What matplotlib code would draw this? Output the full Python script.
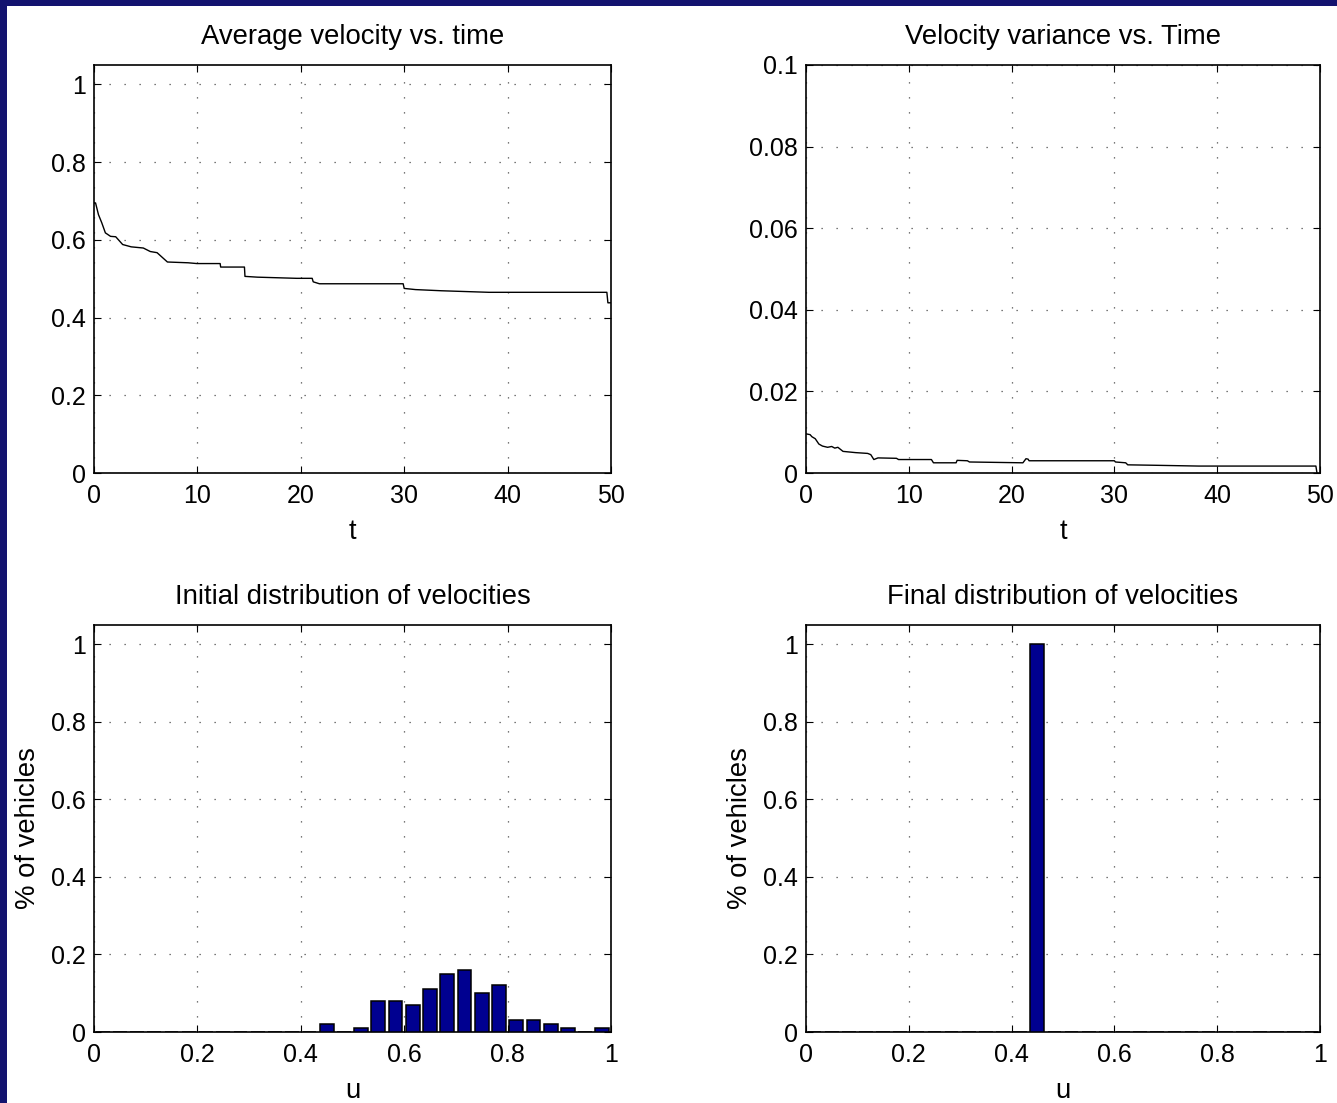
import matplotlib
matplotlib.use("Agg")
import matplotlib.pyplot as plt
import numpy as np
from matplotlib.patches import Rectangle

plt.rcParams['font.family'] = ['Liberation Sans', 'DejaVu Sans']

# ---------------- data ----------------
t_avg = [0.0, 0.15, 0.43, 0.75, 1.1, 1.6, 2.1, 2.77, 3.6, 4.77, 5.44, 6.1, 6.6, 7.1,
         9.1, 9.95, 12.2, 12.25, 14.55, 14.6, 15.8, 19.6, 21.1, 21.2, 21.8, 29.9, 30.0,
         31.1, 33.6, 38.2, 49.6, 49.7, 50.0]
v_avg = [0.695, 0.695, 0.665, 0.644, 0.618, 0.609, 0.608, 0.588, 0.582, 0.579, 0.570,
         0.567, 0.555, 0.543, 0.541, 0.539, 0.539, 0.530, 0.530, 0.506, 0.504, 0.501,
         0.501, 0.492, 0.487, 0.487, 0.475, 0.472, 0.469, 0.465, 0.465, 0.438, 0.438]

t_var = [0.0, 0.4, 0.57, 0.9, 1.25, 1.6, 2.1, 2.5, 2.8, 3.1, 3.6, 4.8, 6.0, 6.3, 6.6,
         7.0, 8.8, 9.0, 12.2, 12.4, 14.6, 14.7, 15.7, 15.9, 21.1, 21.4, 21.6, 21.7,
         30.0, 30.1, 31.1, 31.3, 33.8, 38.2, 49.6, 49.7]
v_var = [0.0096, 0.0094, 0.0089, 0.0084, 0.0071, 0.0066, 0.0063, 0.0065, 0.0061,
         0.0063, 0.0053, 0.0050, 0.0048, 0.0045, 0.0033, 0.0037, 0.0036, 0.0033,
         0.0033, 0.0025, 0.0025, 0.0031, 0.0030, 0.0027, 0.0025, 0.0035, 0.0034,
         0.0030, 0.0030, 0.0027, 0.0025, 0.0020, 0.0019, 0.0017, 0.0017, 0.0001]

n_bins = 30
u_centers = [(k + 0.5) / n_bins for k in range(n_bins)]
init_frac = [0, 0, 0, 0, 0, 0, 0, 0, 0, 0, 0, 0, 0, 0.02, 0, 0.01, 0.08, 0.08, 0.07,
             0.11, 0.15, 0.16, 0.10, 0.12, 0.03, 0.03, 0.02, 0.01, 0, 0.01]
final_frac = [0] * 13 + [1.0] + [0] * 16

titles = ["Average velocity vs. time", "Velocity variance vs. Time",
          "Initial distribution of velocities", "Final distribution of velocities"]
t_ticks = [0, 10, 20, 30, 40, 50]
u_ticks = [0, 0.2, 0.4, 0.6, 0.8, 1]
u_ticklabels = ["0", "0.2", "0.4", "0.6", "0.8", "1"]
frac_ticks = [0, 0.2, 0.4, 0.6, 0.8, 1]
frac_ticklabels = ["0", "0.2", "0.4", "0.6", "0.8", "1"]
var_ticks = [0, 0.02, 0.04, 0.06, 0.08, 0.1]
var_ticklabels = ["0", "0.02", "0.04", "0.06", "0.08", "0.1"]

# ---------------- figure ----------------
W, H = 1337, 1103
fig = plt.figure(figsize=(W / 100, H / 100), dpi=100)
fig.patch.set_facecolor('white')
navy = '#13136f'
fig.patches.append(Rectangle((0, 0), 7 / W, 1, transform=fig.transFigure,
                             facecolor=navy, edgecolor='none', zorder=-1))
fig.patches.append(Rectangle((0, 1 - 6 / H), 1, 6 / H, transform=fig.transFigure,
                             facecolor=navy, edgecolor='none', zorder=-1))

FS = 18     # tick labels
TFS = 19.8  # titles / axis labels

def pos(x0, x1, ytop, ybot):
    return [x0 / W, 1 - ybot / H, (x1 - x0) / W, (ybot - ytop) / H]

ax1 = fig.add_axes(pos(94, 611, 65, 473))
ax2 = fig.add_axes(pos(806, 1320, 65, 473))
ax3 = fig.add_axes(pos(94, 611, 625, 1032))
ax4 = fig.add_axes(pos(806, 1320, 625, 1032))

def style(ax):
    ax.grid(True, color='0.3', linestyle=(0, (1, 11)), linewidth=0.9)
    ax.set_axisbelow(True)
    ax.tick_params(direction='in', top=True, right=True, length=5, width=0.8,
                   labelsize=FS, pad=8)
    ax.tick_params(axis='y', pad=6)
    for s in ax.spines.values():
        s.set_linewidth(1.2)

ax1.plot(t_avg, v_avg, color='black', linewidth=1)
ax1.set_xlim(0, 50)
ax1.set_ylim(0, 1.05)
ax1.set_xticks(t_ticks)
ax1.set_yticks(frac_ticks)
ax1.set_yticklabels(frac_ticklabels)
ax1.set_xlabel("t", fontsize=TFS, labelpad=8)
ax1.set_title(titles[0], fontsize=TFS, pad=15)

ax2.plot(t_var, v_var, color='black', linewidth=1)
ax2.set_xlim(0, 50)
ax2.set_ylim(0, 0.1)
ax2.set_xticks(t_ticks)
ax2.set_yticks(var_ticks)
ax2.set_yticklabels(var_ticklabels)
ax2.set_xlabel("t", fontsize=TFS, labelpad=8)
ax2.set_title(titles[1], fontsize=TFS, pad=15)

bw = 0.8 / n_bins
for ax, vals, title in [(ax3, init_frac, titles[2]), (ax4, final_frac, titles[3])]:
    ax.bar(u_centers, vals, width=bw, color='#000090', edgecolor='black',
           linewidth=1.1, zorder=3)
    ax.set_xlim(0, 1)
    ax.set_ylim(0, 1.05)
    ax.set_xticks(u_ticks)
    ax.set_xticklabels(u_ticklabels)
    ax.set_yticks(frac_ticks)
    ax.set_yticklabels(frac_ticklabels)
    ax.set_xlabel("u", fontsize=TFS, labelpad=8)
    ax.set_ylabel("% of vehicles", fontsize=TFS, labelpad=7)
    ax.set_title(title, fontsize=TFS, pad=15)

for ax in (ax1, ax2, ax3, ax4):
    style(ax)

fig.savefig("out.png", dpi=100)
